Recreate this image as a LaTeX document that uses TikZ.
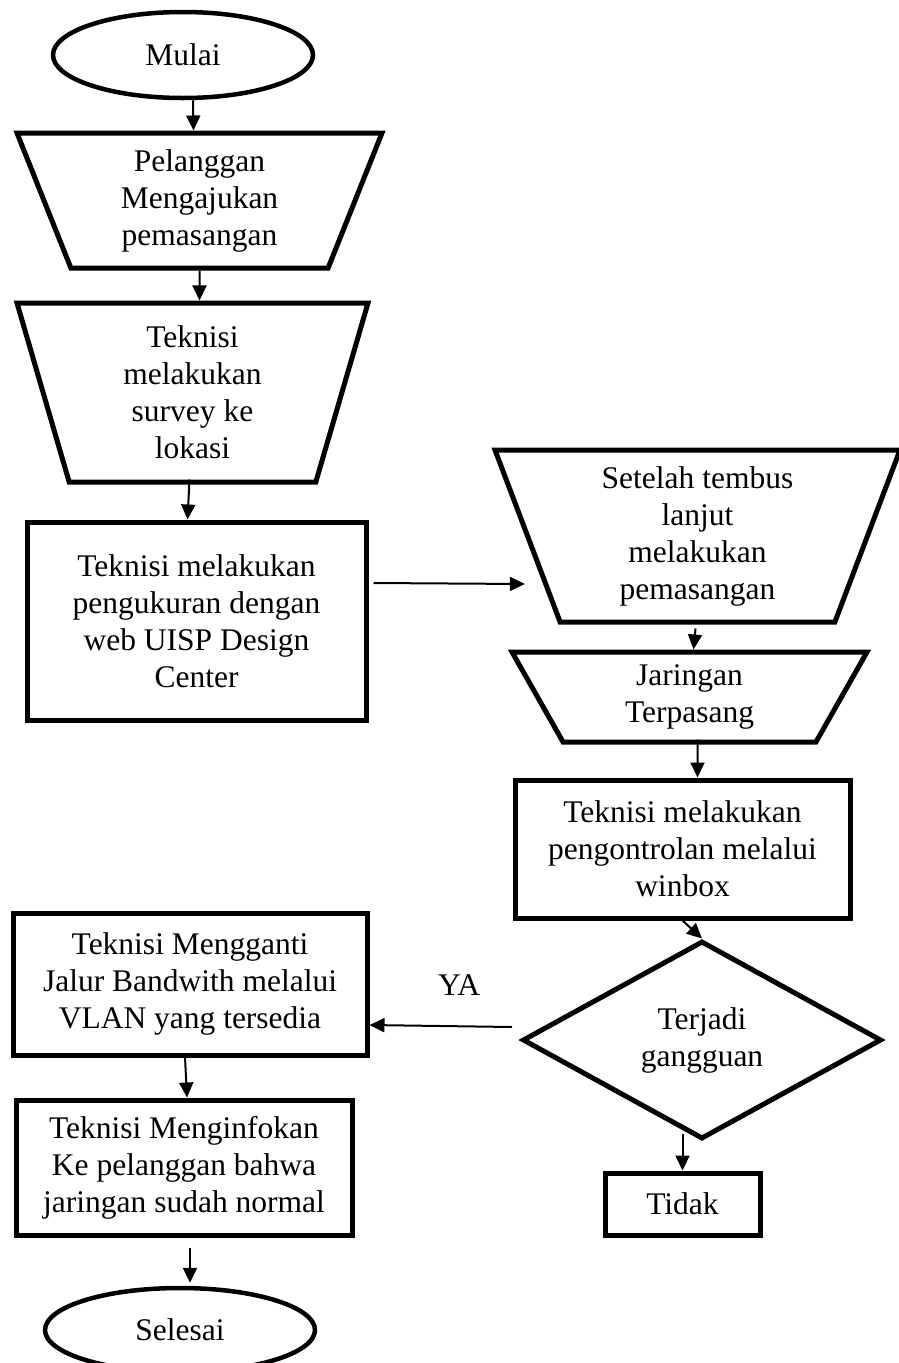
\documentclass[tikz,border=0pt]{standalone}
\usepackage{fontspec}
\setmainfont{Liberation Serif}
\usetikzlibrary{shapes.geometric,arrows.meta}

\begin{document}
\begin{tikzpicture}[x=1pt,y=-1pt,
  every node/.style={font=\fontsize{31.5}{37}\selectfont, align=center},
  terminal/.style={draw, ellipse, inner sep=0pt, line width=4.5pt},
  proses/.style={draw, rectangle, inner sep=0pt, line width=5pt},
  manual/.style={draw, trapezium, shape border rotate=180, trapezium stretches body=true, inner sep=0pt, line width=5pt},
  keputusan/.style={draw, diamond, inner sep=0pt, line width=5pt},
  panah/.style={line width=2pt, -{Triangle[length=15pt,width=14pt]}}]

\useasboundingbox (0,0) rectangle (898,1363);

% Left column
\node[terminal, minimum width=260pt, minimum height=86pt] (mulai) at (183,55) {Mulai};
\node[manual, trapezium left angle=62.3, trapezium right angle=62.3, minimum width=365pt, minimum height=135pt] (pelanggan) at (199.5,200.5) {Pelanggan\\Mengajukan\\pemasangan};
\node[manual, trapezium left angle=68.6, trapezium right angle=68.6, minimum width=351pt, minimum height=179pt] (survey) at (192.5,392.5) {Teknisi\\melakukan\\survey ke\\lokasi};
\node[proses, minimum width=339pt, minimum height=198pt] (ukur) at (196.5,621) {Teknisi melakukan\\pengukuran dengan\\web UISP Design\\Center};

% Right column
\node[manual, trapezium left angle=65, trapezium right angle=65, minimum width=405pt, minimum height=172pt] (tembus) at (697.5,536) {Setelah tembus\\lanjut\\melakukan\\pemasangan};
\node[manual, trapezium left angle=51.7, trapezium right angle=51.7, minimum width=355pt, minimum height=90pt] (jaringan) at (689.5,697) {Jaringan\\Terpasang};
\node[proses, minimum width=335pt, minimum height=138pt] (kontrol) at (682.5,849) {Teknisi melakukan\\pengontrolan melalui\\winbox};
\node[keputusan, aspect=1.81, minimum width=359pt, minimum height=198pt] (gangguan) at (702,1040) {Terjadi\\gangguan};
\node[proses, minimum width=155pt, minimum height=62pt] (tidak) at (682.5,1204) {Tidak};

% Bottom left
\node[proses, minimum width=354pt, minimum height=142pt] (mengganti) at (190,984) {Teknisi Mengganti\\Jalur Bandwith melalui\\VLAN yang tersedia};
\node[proses, minimum width=336pt, minimum height=135pt] (infokan) at (184,1167.5) {Teknisi Menginfokan\\Ke pelanggan bahwa\\jaringan sudah normal};
\node[terminal, minimum width=270pt, minimum height=84pt] (selesai) at (180,1330) {Selesai};
\node (ya) at (459,985) {YA};

% Arrows
\draw[panah] ([xshift=10pt]mulai.south) -- ([xshift=-6pt]pelanggan.north);
\draw[panah] (pelanggan.south) -- ([xshift=7pt]survey.north);
\draw[panah] ([xshift=-3pt,yshift=5pt]survey.south) -- ([xshift=-9pt]ukur.north);
\draw[panah] ([xshift=5pt,yshift=38pt]ukur.east) -- ([yshift=-48pt]tembus.west);
\draw[panah] ([xshift=-2pt,yshift=-4pt]tembus.south) -- ([xshift=4pt]jaringan.north);
\draw[panah] ([xshift=8pt,yshift=5pt]jaringan.south) -- ([xshift=15pt]kontrol.north);
\draw[panah] (kontrol.south) -- (gangguan.north);
\draw[panah] ([xshift=-8pt,yshift=13pt]gangguan.west) -- ([yshift=-41pt]mengganti.east);
\draw[panah] ([yshift=8pt]gangguan.south -| tidak.north) -- (tidak.north);
\draw[panah] ([xshift=-5pt]mengganti.south) -- ([xshift=3pt]infokan.north);
\draw[panah] ([xshift=6pt,yshift=-10pt]infokan.south) -- ([xshift=10pt,yshift=3pt]selesai.north);

\end{tikzpicture}
\end{document}
